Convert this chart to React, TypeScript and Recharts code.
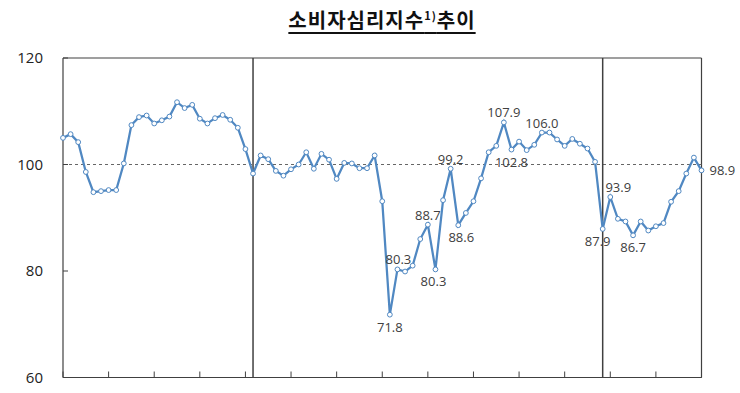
import { LineChart, Line, XAxis, YAxis, ReferenceLine, LabelList } from "recharts";

// monthly index values (85 months)
const values = [
  105.0, 105.7, 104.2, 98.6, 94.8, 95.0, 95.2, 95.2, 100.2, 107.4, 108.9, 109.2,
  107.7, 108.3, 109.0, 111.7, 110.6, 111.2, 108.6, 107.7, 108.7, 109.3, 108.4, 106.9,
  102.9, 98.3, 101.7, 101.0, 98.8, 97.9, 99.1, 100.0, 102.3, 99.2, 102.0, 100.9,
  97.3, 100.3, 100.2, 99.3, 99.3, 101.7, 93.1, 71.8, 80.3, 79.9, 81.0, 86.0,
  88.7, 80.3, 93.3, 99.2, 88.6, 90.9, 93.1, 97.4, 102.3, 103.5, 107.9, 102.8,
  104.3, 102.7, 103.7, 106.0, 106.0, 104.7, 103.5, 104.8, 103.9, 103.0, 100.5, 87.9,
  93.9, 89.8, 89.3, 86.7, 89.3, 87.6, 88.4, 89.0, 93.0, 95.0, 98.3, 101.3, 98.9,
];

const months = values.map((_, i) => i);
const yTicks = [60, 80, 100, 120];
const dividers = [25, 71];
const baseline = 100;

// which points carry a value label, and on which side
const labelSpots: { index: number; side: "above" | "below" | "right"; dx: number }[] = [
  { index: 43, side: "below", dx: 0 },
  { index: 44, side: "above", dx: 1 },
  { index: 48, side: "above", dx: 0 },
  { index: 49, side: "below", dx: -2 },
  { index: 51, side: "above", dx: 0 },
  { index: 52, side: "below", dx: 3 },
  { index: 58, side: "above", dx: 0 },
  { index: 59, side: "below", dx: 0 },
  { index: 63, side: "above", dx: 0 },
  { index: 71, side: "below", dx: -5 },
  { index: 72, side: "above", dx: 8 },
  { index: 75, side: "below", dx: 0 },
  { index: 84, side: "right", dx: 8 },
];

const rows = months.map((m, i) => ({ month: m, value: values[i] }));

const AXIS = "#404040";
const BLUE = "#5088c2";
const NUM_FONT = "'Open Sans', 'Noto Sans', sans-serif";

function YTick(props: any) {
  const { x, y, payload } = props;
  // tickMargin is 20, so the axis line sits at x + 20
  return (
    <g>
      <text x={x} y={y} dy={5} textAnchor="end" fontSize={15} fill="#222" fontFamily={NUM_FONT}>
        {payload.value}
      </text>
      <line x1={x + 20} x2={x + 25} y1={y} y2={y} stroke={AXIS} />
    </g>
  );
}

function XTick(props: any) {
  const { x, y } = props;
  return <line x1={x} x2={x} y1={y} y2={y - 6} stroke={AXIS} />;
}

function PointLabel(props: any) {
  const { x, y, index, value } = props;
  const spot = labelSpots.find((s) => s.index === index);
  if (!spot) return null;
  let tx = x + spot.dx;
  let ty = y;
  let anchor = "middle";
  if (spot.side === "above") ty = y - 5;
  if (spot.side === "below") ty = y + 17;
  if (spot.side === "right") {
    ty = y + 5;
    anchor = "start";
  }
  return (
    <text x={tx} y={ty} textAnchor={anchor} fontSize={13} fill="#404040" fontFamily={NUM_FONT}>
      {Number(value).toFixed(1)}
    </text>
  );
}

export default function App() {
  return (
    <div style={{ position: "absolute", left: 0, top: 0, width: 740, height: 393, background: "#fff" }}>
      <div
        style={{
          position: "absolute",
          left: 12,
          top: 5,
          width: 740,
          textAlign: "center",
          fontFamily: "'Noto Sans CJK KR', sans-serif",
          fontWeight: 700,
          fontSize: 20,
          letterSpacing: 1,
          color: "#111",
        }}
      >
        <span style={{ textDecoration: "underline", textUnderlineOffset: 4 }}>
          소비자심리지수<sup style={{ fontSize: 11, fontWeight: 700 }}>1)</sup>추이
        </span>
      </div>
      <LineChart width={740} height={393} data={rows} margin={{ top: 58, right: 38.5, bottom: 14.5, left: 0 }}>
        <XAxis
          dataKey="month"
          height={1}
          interval={5}
          tickSize={0}
          tickMargin={0}
          tickLine={false}
          tick={<XTick />}
          axisLine={{ stroke: AXIS, strokeWidth: 1.2 }}
        />
        <YAxis
          domain={[60, 120]}
          ticks={yTicks}
          width={63}
          tickSize={0}
          tickMargin={20}
          tickLine={false}
          tick={<YTick />}
          axisLine={{ stroke: AXIS, strokeWidth: 1.2 }}
        />
        {/* plot frame: top and right edges */}
        <ReferenceLine y={120} stroke={AXIS} strokeWidth={1.2} />
        <ReferenceLine y={60} stroke={AXIS} strokeWidth={1.2} />
        <ReferenceLine x={months[months.length - 1]} stroke={AXIS} strokeWidth={1.2} />
        <ReferenceLine y={baseline} stroke="#666" strokeDasharray="3 3" strokeWidth={1} />
        {dividers.map((d) => (
          <ReferenceLine key={d} x={d} stroke={AXIS} strokeWidth={1.5} />
        ))}
        <Line
          type="linear"
          dataKey="value"
          stroke={BLUE}
          strokeWidth={2.25}
          dot={{ r: 2.4, fill: "#fff", stroke: BLUE, strokeWidth: 1 }}
          isAnimationActive={false}
        >
          <LabelList dataKey="value" content={<PointLabel />} />
        </Line>
      </LineChart>
    </div>
  );
}
